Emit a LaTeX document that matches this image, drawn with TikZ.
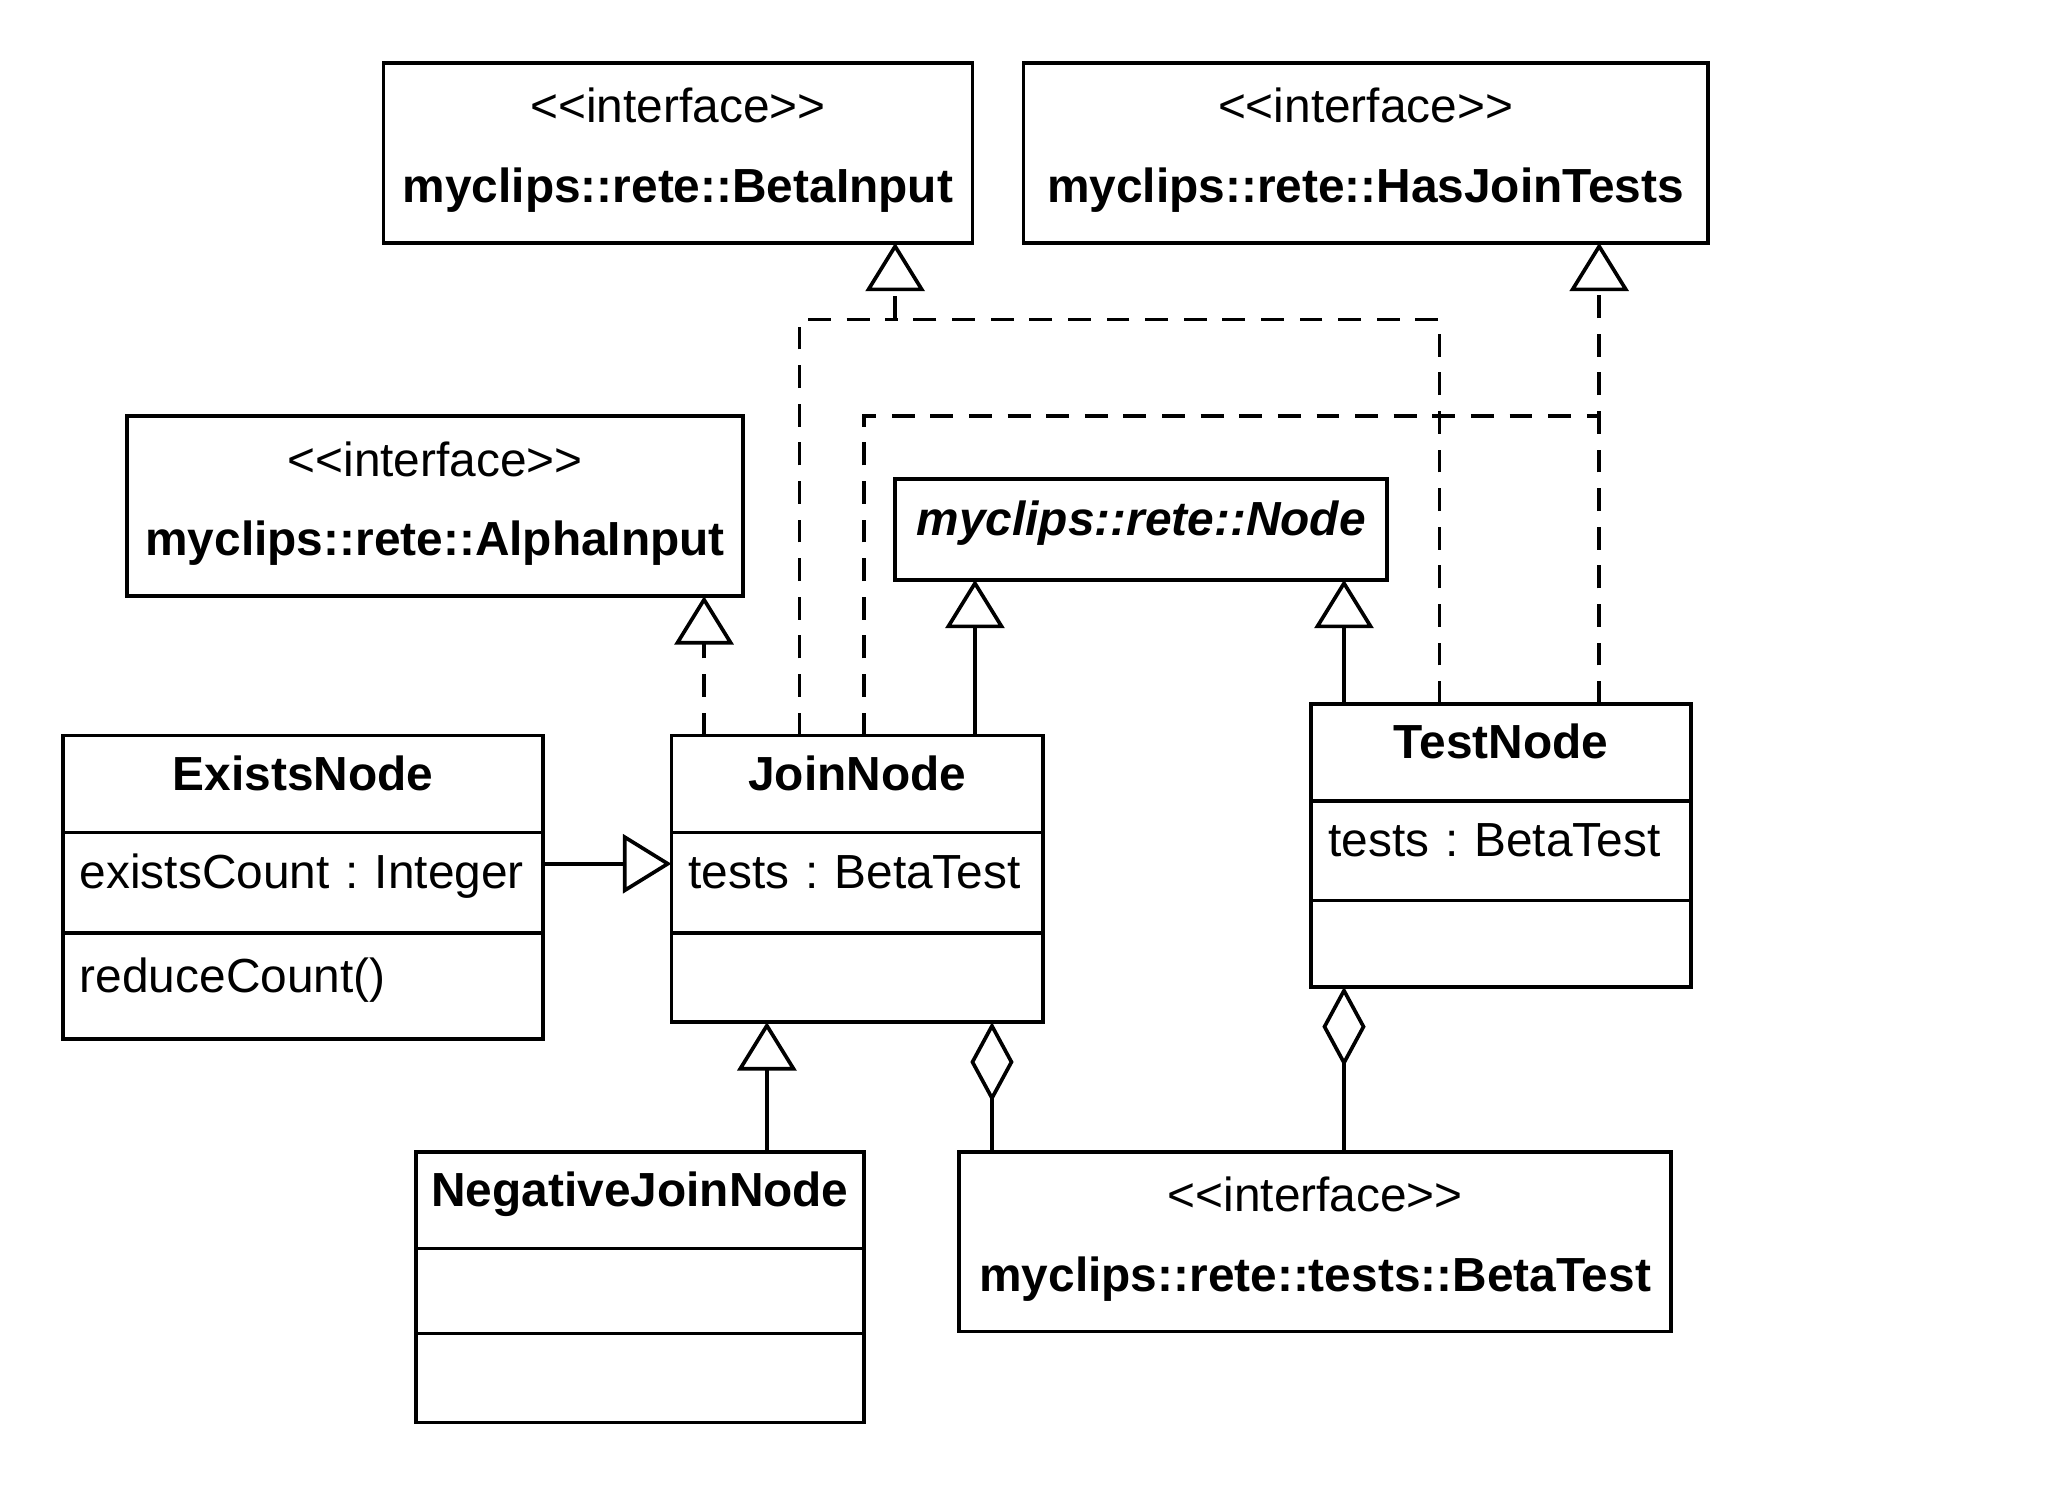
\documentclass[tikz,border=0pt]{standalone}
\usepackage{fontspec}
\setmainfont{Liberation Sans}
\usetikzlibrary{arrows.meta}
\tikzset{
  umlbox/.style={draw, anchor=north west, outer sep=0pt, inner xsep=1.3mm, inner ysep=0pt, text height=0.72em},
  classname/.style={umlbox, inner xsep=0pt, text depth=0.45em, font=\bfseries, align=center, minimum height=7.4mm},
  members/.style={umlbox, text depth=0.46em, align=left},
  iface/.style={draw, anchor=north west, outer sep=0pt, inner sep=0pt, align=center, minimum height=13.75mm},
  dep/.style={dash pattern=on 1.75mm off 1.2mm},
  realize/.style={dep, -{Triangle[open, length=3.7mm, width=4.5mm]}},
  extends/.style={-{Triangle[open, length=3.7mm, width=4.5mm]}},
  aggr/.style={{Diamond[open, length=6.1mm, width=3.3mm]}-}
}
% keep << and >> from turning into guillemets
\newcommand{\stereo}{<\kern0pt<interface>\kern0pt>\\[4.8pt]}
\newcommand{\lowstrut}{\rule[-0.32em]{0pt}{0pt}}

\begin{document}
\fontsize{10.4}{12.5}\selectfont\frenchspacing
\begin{tikzpicture}[x=0.1mm, y=-0.1mm, line width=0.8pt]
  \useasboundingbox (0,0) rectangle (1568,1155);

  % interfaces
  \node[iface, minimum width=45mm] (betain) at (293,48) {\stereo\textbf{myclips::rete::BetaInput}\lowstrut};
  \node[iface, minimum width=52.3mm] (hasjt) at (782,48) {\stereo\textbf{myclips::rete::HasJoinTests}\lowstrut};
  \node[iface, minimum width=47.1mm] (alphain) at (97,318) {\stereo\textbf{myclips::rete::AlphaInput}\lowstrut};
  \node[iface, minimum width=54.4mm] (betatest) at (733,880) {\stereo\textbf{myclips::rete::tests::BetaTest}\lowstrut};
  \node[classname, minimum width=37.6mm, minimum height=7.7mm] (rnode) at (684,366) {\textit{myclips::rete::Node}};

  % classes
  \node[classname, minimum width=36.7mm] (exists) at (48,562) {ExistsNode};
  \node[members, text width=34.1mm, minimum height=7.7mm] (existsattr) at (exists.south west) {\mbox{existsCount : Integer}};
  \node[members, text width=34.1mm, minimum height=8.1mm] (existsops) at (existsattr.south west) {reduceCount()};

  \node[classname, minimum width=28.4mm] (join) at (513,562) {JoinNode};
  \node[members, text width=25.8mm, minimum height=7.7mm] (joinattr) at (join.south west) {\mbox{tests : BetaTest}};
  \node[members, text width=25.8mm, minimum height=6.8mm] (joinops) at (joinattr.south west) {};

  \node[classname, minimum width=29mm] (test) at (1002,538) {TestNode};
  \node[members, text width=26.4mm, minimum height=7.6mm] (testattr) at (test.south west) {\mbox{tests : BetaTest}};
  \node[members, text width=26.4mm, minimum height=6.6mm] (testops) at (testattr.south west) {};

  \node[classname, minimum width=34.2mm] (negjoin) at (318,880) {NegativeJoinNode};
  \node[members, text width=31.6mm, minimum height=6.5mm] (negjoinattr) at (negjoin.south west) {};
  \node[members, text width=31.6mm, minimum height=6.8mm] (negjoinops) at (negjoinattr.south west) {};

  % connector ends
  \coordinate (join1) at ([xshift=2.5mm]join.north west);
  \coordinate (join2) at ([xshift=9.8mm]join.north west);
  \coordinate (join3) at ([xshift=14.7mm]join.north west);
  \coordinate (join4) at ([xshift=23.2mm]join.north west);
  \coordinate (test1) at ([xshift=2.5mm]test.north west);
  \coordinate (test2) at ([xshift=9.8mm]test.north west);
  \coordinate (test3) at ([xshift=22mm]test.north west);
  \coordinate (bibus) at (684,244);
  \coordinate (hjbus) at (1222,318);
  \coordinate (ext) at ([yshift=-2.4mm]exists.south east);
  \coordinate (negtop) at ([xshift=26.8mm]negjoin.north west);
  \coordinate (joinbot) at ([xshift=24.5mm]joinops.south west);
  \coordinate (testbot) at ([xshift=2.5mm]testops.south west);

  % realisations
  \draw[realize] (join1) -- (join1 |- alphain.south);
  \draw[dep] (join2) |- (bibus);
  \draw[dep] (test2) |- (bibus);
  \draw[realize] (bibus) -- (bibus |- betain.south);
  \draw[dep] (join3) |- (hjbus);
  \draw[realize] (test3) -- (test3 |- hasjt.south);

  % generalisations
  \draw[extends] (join4) -- (join4 |- rnode.south);
  \draw[extends] (test1) -- (test1 |- rnode.south);
  \draw[extends] (ext) -- (ext -| join.west);
  \draw[extends] (negtop) -- (negtop |- joinops.south);

  % aggregations
  \draw[aggr] (joinbot) -- (joinbot |- betatest.north);
  \draw[aggr] (testbot) -- (testbot |- betatest.north);
\end{tikzpicture}
\end{document}
